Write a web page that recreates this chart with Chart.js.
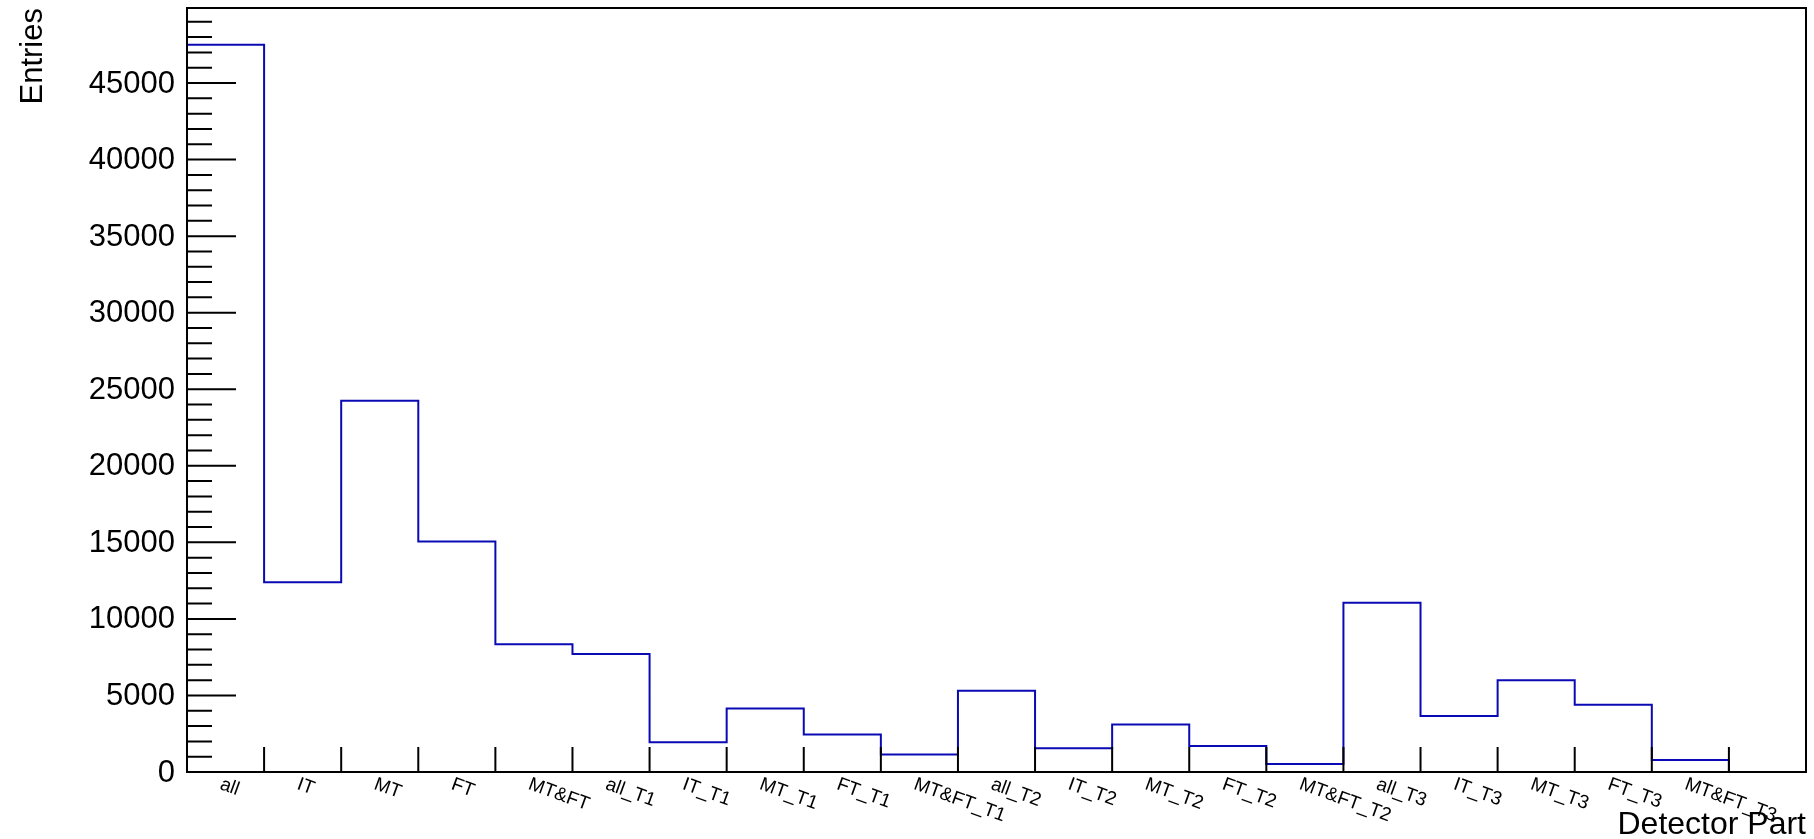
<!DOCTYPE html>
<html>
<head>
<meta charset="utf-8">
<title>Detector Part</title>
<script src="https://cdn.jsdelivr.net/npm/chart.js@4/dist/chart.umd.min.js"></script>
<style>
  html, body { margin: 0; padding: 0; background: #fff; }
  #wrap { width: 1814px; height: 839px; }
</style>
</head>
<body>
<div id="wrap"><canvas id="hist" width="1814" height="839"></canvas></div>
<script>
// Bin labels of the detector-part histogram (the last bin is empty and unlabelled)
const binLabels = ['all', 'IT', 'MT', 'FT', 'MT&FT',
  'all_T1', 'IT_T1', 'MT_T1', 'FT_T1', 'MT&FT_T1',
  'all_T2', 'IT_T2', 'MT_T2', 'FT_T2', 'MT&FT_T2',
  'all_T3', 'IT_T3', 'MT_T3', 'FT_T3', 'MT&FT_T3', ''];

// Entries per bin
const entries = [47500, 12400, 24250, 15050, 8350,
  7700, 1950, 4150, 2450, 1150,
  5300, 1550, 3100, 1700, 530,
  11050, 3650, 6000, 4400, 780, 0];

// Y axis: labelled major ticks, minor tick step and upper limit
const yTickLabels = [0, 5000, 10000, 15000, 20000, 25000, 30000, 35000, 40000, 45000];
const yMinorStep = 1000;
const yMax = 49900;

const xTitle = 'Detector Part';
const yTitle = 'Entries';

// Histogram outline: one point at the left edge of every bin, step-before
const outline = [{ x: 0, y: 0 }];
entries.forEach((v, i) => outline.push({ x: i, y: v }));
outline.push({ x: entries.length, y: 0 });

const FONT = "'Liberation Sans', Arial, Helvetica, sans-serif";

// Frame, inward ticks, tick labels and axis titles in the ROOT style
const rootAxes = {
  id: 'rootAxes',
  afterDraw(chart) {
    const { ctx, chartArea: a, scales: { x, y } } = chart;
    ctx.save();
    ctx.strokeStyle = '#000';
    ctx.lineWidth = 2;
    ctx.lineCap = 'butt';

    // y ticks (major every 5000, minor every 1000)
    ctx.beginPath();
    for (let v = 0; v <= yMax; v += yMinorStep) {
      const py = y.getPixelForValue(v);
      const len = yTickLabels.includes(v) ? 49 : 25;
      ctx.moveTo(a.left, py);
      ctx.lineTo(a.left + len, py);
    }
    // x ticks at the inner bin edges
    for (let i = 1; i < binLabels.length; i++) {
      const px = x.getPixelForValue(i);
      ctx.moveTo(px, a.bottom);
      ctx.lineTo(px, a.bottom - 25);
    }
    ctx.stroke();

    // frame
    ctx.strokeRect(a.left, a.top, a.right - a.left, a.bottom - a.top);

    ctx.fillStyle = '#000';

    // y tick labels
    ctx.font = '31px ' + FONT;
    ctx.textAlign = 'right';
    ctx.textBaseline = 'middle';
    yTickLabels.forEach(v => {
      ctx.fillText(String(v), a.left - 12, y.getPixelForValue(v) + 1);
    });

    // x bin labels, tilted
    ctx.font = '19px ' + FONT;
    ctx.textAlign = 'left';
    ctx.textBaseline = 'alphabetic';
    binLabels.forEach((lab, i) => {
      if (!lab) return;
      const cx = x.getPixelForValue(i + 0.5);
      ctx.save();
      ctx.translate(cx - 2, a.bottom + 4);
      ctx.rotate(20 * Math.PI / 180);
      ctx.fillText(lab, 0, 13.5);
      ctx.restore();
    });

    // axis titles
    ctx.font = '32px ' + FONT;
    ctx.textAlign = 'right';
    ctx.textBaseline = 'alphabetic';
    ctx.fillText(xTitle, a.right, 834);

    ctx.font = '31px ' + FONT;
    ctx.save();
    ctx.translate(42, a.top);
    ctx.rotate(-Math.PI / 2);
    ctx.textAlign = 'right';
    ctx.fillText(yTitle, 0, 0);
    ctx.restore();

    ctx.restore();
  }
};

new Chart(document.getElementById('hist'), {
  type: 'line',
  data: {
    datasets: [{
      label: 'Entries',
      data: outline,
      stepped: 'before',
      borderColor: '#0a0ab4',
      borderWidth: 2,
      pointRadius: 0,
      fill: false,
      tension: 0
    }]
  },
  options: {
    responsive: false,
    animation: false,
    events: [],
    layout: { padding: { left: 187, top: 8, right: 8, bottom: 67 } },
    plugins: { legend: { display: false }, tooltip: { enabled: false } },
    scales: {
      x: { type: 'linear', min: 0, max: binLabels.length, display: false },
      y: { type: 'linear', min: 0, max: yMax, display: false }
    }
  },
  plugins: [rootAxes]
});
</script>
</body>
</html>
